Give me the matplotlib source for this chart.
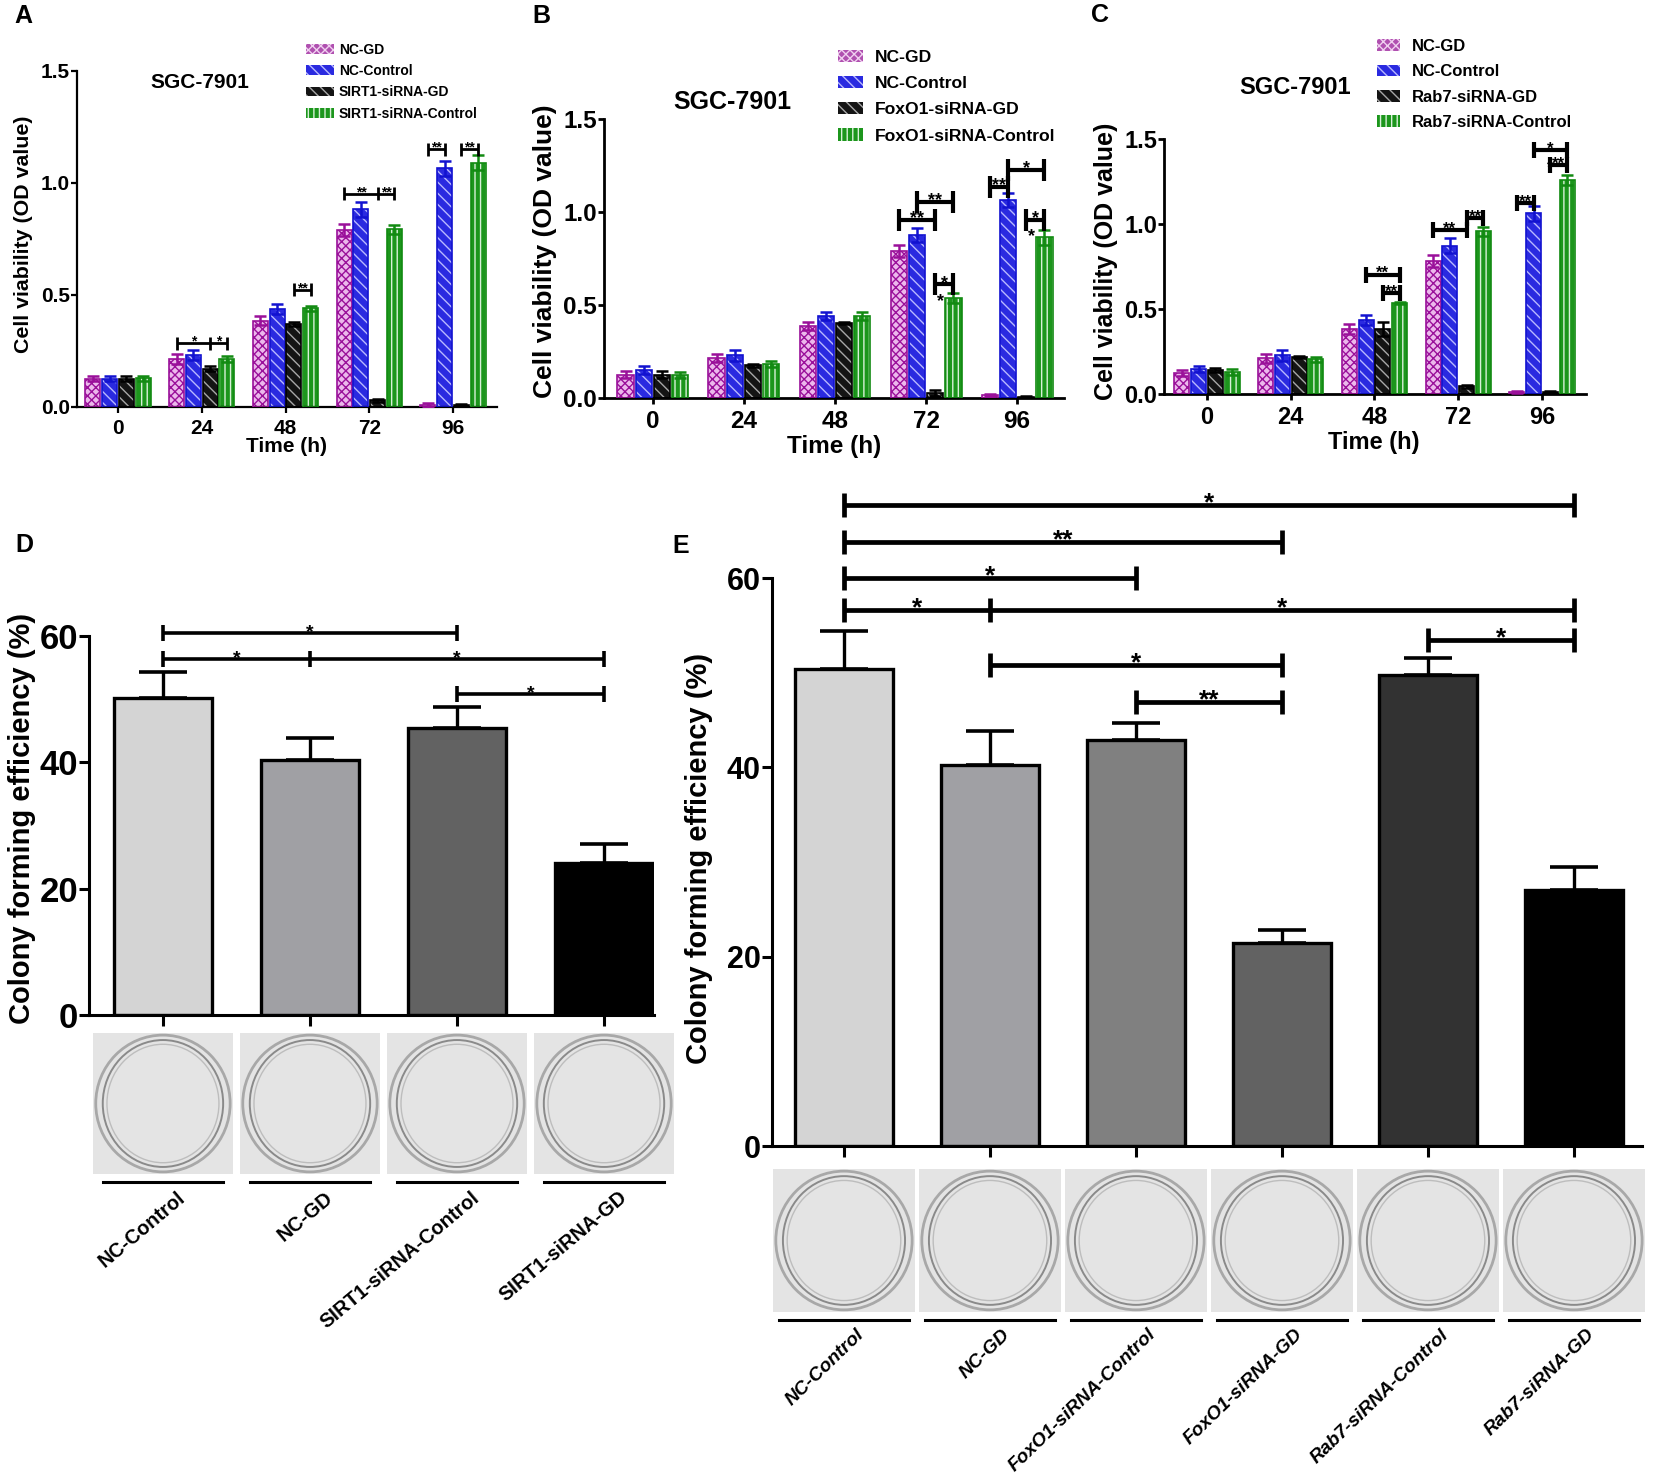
import matplotlib
matplotlib.use('Agg')
import matplotlib.pyplot as plt
from matplotlib.patches import Patch, Rectangle, Ellipse
import numpy as np

plt.rcParams['font.family'] = ['Liberation Sans', 'DejaVu Sans']
plt.rcParams['font.weight'] = 'bold'
plt.rcParams['hatch.linewidth'] = 1.0

# ---------------- data ----------------
time_labels = ['0', '24', '48', '72', '96']

A_series = ['NC-GD', 'NC-Control', 'SIRT1-siRNA-GD', 'SIRT1-siRNA-Control']
A_nc_gd = [0.127, 0.215, 0.386, 0.790, 0.010]
A_nc_gd_err = [0.011, 0.021, 0.021, 0.027, 0.008]
A_nc_ctrl = [0.127, 0.232, 0.438, 0.882, 1.065]
A_nc_ctrl_err = [0.011, 0.023, 0.024, 0.034, 0.035]
A_si_gd = [0.127, 0.171, 0.371, 0.030, 0.009]
A_si_gd_err = [0.011, 0.010, 0.009, 0.007, 0.004]
A_si_ctrl = [0.128, 0.215, 0.441, 0.793, 1.090]
A_si_ctrl_err = [0.011, 0.012, 0.012, 0.019, 0.034]

B_series = ['NC-GD', 'NC-Control', 'FoxO1-siRNA-GD', 'FoxO1-siRNA-Control']
B_nc_gd = [0.125, 0.215, 0.388, 0.788, 0.018]
B_nc_gd_err = [0.018, 0.023, 0.022, 0.032, 0.005]
B_nc_ctrl = [0.149, 0.229, 0.442, 0.877, 1.065]
B_nc_ctrl_err = [0.021, 0.031, 0.023, 0.039, 0.039]
B_fox_gd = [0.125, 0.175, 0.403, 0.027, 0.007]
B_fox_gd_err = [0.018, 0.009, 0.007, 0.014, 0.005]
B_fox_ctrl = [0.125, 0.183, 0.442, 0.537, 0.863]
B_fox_ctrl_err = [0.015, 0.014, 0.020, 0.027, 0.041]

C_series = ['NC-GD', 'NC-Control', 'Rab7-siRNA-GD', 'Rab7-siRNA-Control']
C_nc_gd = [0.123, 0.211, 0.382, 0.783, 0.012]
C_nc_gd_err = [0.016, 0.026, 0.029, 0.035, 0.008]
C_nc_ctrl = [0.147, 0.227, 0.437, 0.873, 1.063]
C_nc_ctrl_err = [0.019, 0.033, 0.029, 0.043, 0.043]
C_rab_gd = [0.139, 0.217, 0.382, 0.045, 0.012]
C_rab_gd_err = [0.012, 0.008, 0.039, 0.010, 0.006]
C_rab_ctrl = [0.129, 0.204, 0.538, 0.956, 1.259]
C_rab_ctrl_err = [0.018, 0.013, 0.006, 0.029, 0.029]

D_groups = ['NC-Control', 'NC-GD', 'SIRT1-siRNA-Control', 'SIRT1-siRNA-GD']
D_values = [50.2, 40.3, 45.5, 24.1]
D_errors = [4.1, 3.5, 3.2, 2.9]

E_groups = ['NC-Control', 'NC-GD', 'FoxO1-siRNA-Control', 'FoxO1-siRNA-GD',
            'Rab7-siRNA-Control', 'Rab7-siRNA-GD']
E_values = [50.4, 40.2, 42.9, 21.4, 49.8, 27.0]
E_errors = [4.0, 3.6, 1.8, 1.4, 1.7, 2.5]

# significance: (list of (group, bar) points, level, labels per segment)
A_sig = [([(1, 0), (1, 2), (1, 3)], 0.285, ['*', '*']),
         ([(2, 2), (2, 3)], 0.523, ['**']),
         ([(3, 0), (3, 2), (3, 3)], 0.953, ['**', '**']),
         ([(4, 0), (4, 1)], 1.151, ['**']),
         ([(4, 2), (4, 3)], 1.151, ['**'])]
A_extra = []
B_sig = [([(3, 0), (3, 2)], 0.958, ['**']),
         ([(3, 1), (3, 3)], 1.056, ['**']),
         ([(3, 2), (3, 3)], 0.612, ['*']),
         ([(4, 0), (4, 1)], 1.137, ['**']),
         ([(4, 1), (4, 3)], 1.226, ['*']),
         ([(4, 2), (4, 3)], 0.958, ['*'])]
B_extra = [((3, 2), 0.06, 0.52, '*'), ((4, 2), 0.06, 0.87, '*')]
C_sig = [([(2, 1), (2, 3)], 0.701, ['**']),
         ([(2, 2), (2, 3)], 0.593, ['**']),
         ([(3, 0), (3, 2)], 0.965, ['**']),
         ([(3, 2), (3, 3)], 1.034, ['**']),
         ([(4, 0), (4, 1)], 1.122, ['**']),
         ([(4, 1), (4, 3)], 1.435, ['*']),
         ([(4, 2), (4, 3)], 1.347, ['**'])]
C_extra = [((4, 2), 0.0, 1.33, '*')]
D_sig = [([0, 2], 60.5, ['*']),
         ([0, 1, 3], 56.3, ['*', '*']),
         ([2, 3], 50.8, ['*'])]
E_sig = [([0, 5], 67.7, ['*']),
         ([0, 3], 63.8, ['**']),
         ([0, 2], 60.0, ['*']),
         ([0, 1, 5], 56.6, ['*', '*']),
         ([4, 5], 53.4, ['*']),
         ([1, 3], 50.8, ['*']),
         ([2, 3], 46.9, ['**'])]

# ---------------- styles ----------------
styles = [dict(face='#ecb8ec', hatchc='#9a109a', hatch='xxxx', edge='#9a109a'),
          dict(face='#2a2ae0', hatchc='#b8b8ff', hatch='\\\\\\', edge='#1212d0'),
          dict(face='#141414', hatchc='#a8a8a8', hatch='\\\\\\', edge='#000000'),
          dict(face='#1c961c', hatchc='#d8f0d8', hatch='|||', edge='#128a12')]
D_colors = ['#d4d4d4', '#a0a0a4', '#626262', '#000000']
E_colors = ['#d4d4d4', '#a0a0a4', '#808080', '#626262', '#323232', '#000000']

W, H = 1654, 1477
fig = plt.figure(figsize=(W / 100, H / 100), dpi=100)


def add_ax(box):
    x0, yt, x1, yb = box
    return fig.add_axes([x0 / W, 1 - yb / H, (x1 - x0) / W, (yb - yt) / H])


def ftext(x, y, s, **kw):
    return fig.text(x / W, 1 - y / H, s, **kw)


def bracket(ax, xs, y, texts, half, lw, fs, color='black'):
    ax.plot([xs[0], xs[-1]], [y, y], color=color, lw=lw, clip_on=False,
            solid_capstyle='butt', zorder=6)
    for xv in xs:
        ax.plot([xv, xv], [y - half, y + half], color=color, lw=lw,
                clip_on=False, solid_capstyle='butt', zorder=6)
    for i, t in enumerate(texts):
        if t:
            xm = (xs[i] + xs[i + 1]) / 2
            ax.annotate(t, xy=(xm, y), xytext=(0, -0.2 * fs), textcoords='offset points',
                        ha='center', va='baseline', fontsize=fs, fontweight='bold',
                        annotation_clip=False, zorder=7)


offs = [-0.3, -0.1, 0.1, 0.3]


def viability(box, xlim, vals, errs, names, sig, extra, tick_fs, star_fs, half_px,
              sig_lw, spine_lw):
    ax = add_ax(box)
    x = np.arange(len(time_labels))
    w = 0.18
    handles = []
    for k in range(4):
        st = styles[k]
        xs = x + offs[k]
        ax.bar(xs, vals[k], w, color=st['face'], edgecolor=st['hatchc'], hatch=st['hatch'],
               linewidth=0, zorder=2)
        ax.bar(xs, vals[k], w, fill=False, edgecolor=st['edge'], linewidth=1.2, zorder=3)
        ax.errorbar(xs, vals[k], yerr=errs[k], fmt='none', ecolor=st['edge'], elinewidth=1.8,
                    capsize=4, capthick=1.8, zorder=4)
        handles.append(Patch(facecolor=st['face'] if k else '#b050b0',
                             edgecolor=st['hatchc'] if k else '#f0d0f0',
                             hatch=st['hatch'], linewidth=0, label=names[k]))
    ax.set_xlim(*xlim)
    ax.set_ylim(0, 1.5)
    ax.set_yticks([0, 0.5, 1.0, 1.5])
    ax.set_yticklabels(['0.0', '0.5', '1.0', '1.5'])
    ax.set_xticks(x)
    ax.set_xticklabels(time_labels)
    for s in ['top', 'right']:
        ax.spines[s].set_visible(False)
    for s in ['left', 'bottom']:
        ax.spines[s].set_linewidth(spine_lw)
    ax.tick_params(axis='y', length=4, width=spine_lw, pad=1, labelsize=tick_fs)
    ax.tick_params(axis='x', length=4, width=spine_lw, pad=5, labelsize=tick_fs)
    for t in ax.get_xticklabels() + ax.get_yticklabels():
        t.set_fontweight('bold')
    half = half_px / (box[3] - box[1]) * 1.5
    for pts, lvl, txts in sig:
        xs = [g + offs[b] for g, b in pts]
        bracket(ax, xs, lvl, txts, half, sig_lw, star_fs)
    for (g, b), dx, yy, t in extra:
        ax.text(g + offs[b] + dx, yy, t, ha='center', va='center', fontsize=star_fs,
                fontweight='bold', clip_on=False)
    return ax, handles


# ---------------- panel A ----------------
boxA = (77, 71, 497, 407)
axA, hA = viability(boxA, (-0.49, 4.525), [A_nc_gd, A_nc_ctrl, A_si_gd, A_si_ctrl],
                    [A_nc_gd_err, A_nc_ctrl_err, A_si_gd_err, A_si_ctrl_err], A_series,
                    A_sig, A_extra, 15, 10, 6.5, 2.0, 1.6)
fig.legend(handles=hA, loc='upper left', bbox_to_anchor=(306 / W, 1 - 43 / H), frameon=False,
           fontsize=10, handlelength=2.0, handleheight=0.7, handletextpad=0.35,
           labelspacing=0.52, borderpad=0, borderaxespad=0)
ftext(200, 82, 'SGC-7901', ha='center', va='center', fontsize=15, fontweight='bold')
ftext(24, 234, 'Cell viability (OD value)', rotation=90, ha='center', va='center',
      fontsize=15.4, fontweight='bold')
ftext(287, 446, 'Time (h)', ha='center', va='center', fontsize=15, fontweight='bold')
ftext(14, 16, 'A', ha='left', va='center', fontsize=18, fontweight='bold')

# ---------------- panel B ----------------
boxB = (604, 119, 1064, 398)
axB, hB = viability(boxB, (-0.538, 4.516), [B_nc_gd, B_nc_ctrl, B_fox_gd, B_fox_ctrl],
                    [B_nc_gd_err, B_nc_ctrl_err, B_fox_gd_err, B_fox_ctrl_err], B_series,
                    B_sig, B_extra, 17.5, 13, 11, 3.0, 2.0)
fig.legend(handles=hB, loc='upper left', bbox_to_anchor=(838 / W, 1 - 50 / H), frameon=False,
           fontsize=12.6, handlelength=1.4, handleheight=0.7, handletextpad=0.7,
           labelspacing=0.62, borderpad=0, borderaxespad=0)
ftext(732, 102, 'SGC-7901', ha='center', va='center', fontsize=18, fontweight='bold')
ftext(545, 251, 'Cell viability (OD value)', rotation=90, ha='center', va='center',
      fontsize=19, fontweight='bold')
ftext(834, 447, 'Time (h)', ha='center', va='center', fontsize=17.5, fontweight='bold')
ftext(532, 16, 'B', ha='left', va='center', fontsize=18, fontweight='bold')

# ---------------- panel C ----------------
boxC = (1164, 139, 1586, 394)
axC, hC = viability(boxC, (-0.513, 4.525), [C_nc_gd, C_nc_ctrl, C_rab_gd, C_rab_ctrl],
                    [C_nc_gd_err, C_nc_ctrl_err, C_rab_gd_err, C_rab_ctrl_err], C_series,
                    C_sig, C_extra, 17, 12, 8, 3.0, 2.0)
fig.legend(handles=hC, loc='upper left', bbox_to_anchor=(1377 / W, 1 - 39 / H), frameon=False,
           fontsize=12, handlelength=1.35, handleheight=0.7, handletextpad=0.75,
           labelspacing=0.62, borderpad=0, borderaxespad=0)
ftext(1295, 88, 'SGC-7901', ha='center', va='center', fontsize=17, fontweight='bold')
ftext(1106, 261, 'Cell viability (OD value)', rotation=90, ha='center', va='center',
      fontsize=18, fontweight='bold')
ftext(1374, 442, 'Time (h)', ha='center', va='center', fontsize=17, fontweight='bold')
ftext(1091, 15, 'C', ha='left', va='center', fontsize=18, fontweight='bold')


# ---------------- colony panels ----------------
def colony(box, xlim, values, errors, colors, sig, names, tick_fs, star_fs, half_px,
           sig_lw, photo, line_y, label_y, label_rot, italic, label_fs, label_dx):
    ax = add_ax(box)
    x = np.arange(len(values))
    ax.bar(x, values, 0.67, color=colors, edgecolor='black', linewidth=2.4, zorder=2)
    ax.errorbar(x, values, yerr=[np.zeros(len(errors)), errors], fmt='none', ecolor='black',
                elinewidth=2.4, capsize=17, capthick=2.6, zorder=1)
    ax.set_xlim(*xlim)
    ax.set_ylim(0, 60)
    ax.set_yticks([0, 20, 40, 60])
    ax.set_xticks(x)
    ax.set_xticklabels([])
    for s in ['top', 'right']:
        ax.spines[s].set_visible(False)
    for s in ['left', 'bottom']:
        ax.spines[s].set_linewidth(2.2)
    ax.tick_params(axis='y', length=7, width=2.2, pad=1, labelsize=tick_fs)
    ax.tick_params(axis='x', length=8, width=2.2)
    for t in ax.get_yticklabels():
        t.set_family(['Liberation Sans Narrow', 'Liberation Sans'])
        t.set_fontweight('bold')
    half = half_px / (box[3] - box[1]) * 60
    for xs, lvl, txts in sig:
        bracket(ax, xs, lvl, txts, half, sig_lw, star_fs)
    # plates and labels below the axis
    ptop, pbot, pw, lw_len = photo
    for i, name in enumerate(names):
        cx = ax.transData.transform((i, 0))[0]
        pax = fig.add_axes([(cx - pw / 2) / W, 1 - pbot / H, pw / W, (pbot - ptop) / H])
        pax.set_xlim(0, 1)
        pax.set_ylim(0, 1)
        pax.axis('off')
        pax.add_patch(Rectangle((0, 0), 1, 1, color='#e4e4e4'))
        pax.add_patch(Ellipse((0.5, 0.5), 0.96, 0.97, fill=False, ec='#a8a8a8', lw=2.0))
        pax.add_patch(Ellipse((0.5, 0.5), 0.86, 0.90, fill=False, ec='#8a8a8a', lw=1.4))
        pax.add_patch(Ellipse((0.5, 0.5), 0.80, 0.84, fill=False, ec='#bdbdbd', lw=1.0))
        fig.add_artist(plt.Line2D([(cx - lw_len / 2) / W, (cx + lw_len / 2) / W],
                                  [1 - line_y / H, 1 - line_y / H], color='black', lw=2.2))
        ftext(cx + label_dx, label_y, name, rotation=label_rot, rotation_mode='anchor',
              ha='right', va='top', fontsize=label_fs, fontweight='bold',
              fontstyle='italic' if italic else 'normal')
    return ax


boxD = (89, 636, 654, 1015)
axD = colony(boxD, (-0.503, 3.34), D_values, D_errors, D_colors, D_sig, D_groups,
             25, 14, 8, 2.6, (1033, 1174, 140, 120), 1182, 1188, 40, False, 14.4, 14)
ftext(22, 818, 'Colony forming efficiency (%)', rotation=90, ha='center', va='center',
      fontsize=21, fontweight='bold')
ftext(15, 545, 'D', ha='left', va='center', fontsize=18, fontweight='bold')

boxE = (772, 578, 1642, 1146)
axE = colony(boxE, (-0.493, 5.466), E_values, E_errors, E_colors, E_sig, E_groups,
             22, 19, 12, 3.4, (1169, 1312, 142, 130), 1320, 1326, 44, True, 13.8, 12)
ftext(699, 858, 'Colony forming efficiency (%)', rotation=90, ha='center', va='center',
      fontsize=21, fontweight='bold')
ftext(672, 546, 'E', ha='left', va='center', fontsize=18, fontweight='bold')

fig.savefig('out.png', dpi=100)
